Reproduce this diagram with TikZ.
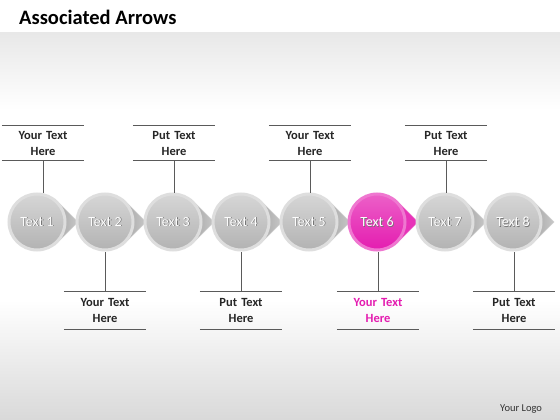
\documentclass[tikz,border=0pt]{standalone}
\usepackage{fontspec}
\setmainfont{Carlito}
\usetikzlibrary{shapes.geometric}
\definecolor{mag}{RGB}{228,28,176}
\definecolor{lineg}{RGB}{90,90,90}
\newcommand\shtxt[1]{\leavevmode\rlap{\kern0.8pt\raisebox{-0.8pt}{\color{black!55}#1}}#1}
\tikzset{
  ballg/.style={circle, minimum size=56pt, inner sep=0pt, line width=3pt,
    draw=black!13, top color=black!16, bottom color=black!30,
    text=white, font=\fontsize{14}{16}\selectfont},
  ballm/.style={circle, minimum size=56pt, inner sep=0pt, line width=3pt,
    draw=mag!60!white, top color=mag!70!white, bottom color=mag,
    text=white, font=\fontsize{14}{16}\selectfont},
  tipg/.style={left color=black!35, right color=black!22, draw=black!18, line width=0.6pt},
  tipm/.style={fill=mag!90!white, draw=mag!60!white, line width=0.6pt},
  lab/.style={inner sep=0pt, text width=82pt, align=center, minimum height=34pt,
    font=\bfseries\fontsize{12.5}{16}\selectfont, text=black!85},
  rule/.style={draw=lineg, line width=0.9pt},
}
\begin{document}
\begin{tikzpicture}[x=1pt,y=-1pt]
\useasboundingbox (0,0) rectangle (560,420);
\fill[white] (0,0) rectangle (560,420);
\shade[top color=black!9, bottom color=white] (0,33) rectangle (560,110);
\fill[white] (0,110) rectangle (560,300);
\shade[top color=white, bottom color=black!15] (0,300) rectangle (560,420);
\node[anchor=base west, inner sep=0pt, font=\bfseries\fontsize{20.5}{24}\selectfont] (title) at (19,25) {Associated Arrows};
\node[anchor=base west, inner sep=0pt, font=\fontsize{10.5}{12}\selectfont, text=black!80] (logo) at (500,411) {Your Logo};
% arrow tips
\foreach \i in {1,...,8}{
  \pgfmathsetmacro\cx{37+68*(\i-1)}
  \ifnum\i=6
    \filldraw[tipm] (\cx+18,199) -- (\cx+41,222) -- (\cx+18,245) -- cycle;
  \else
    \shadedraw[tipg] (\cx+18,199) -- (\cx+41,222) -- (\cx+18,245) -- cycle;
  \fi
}
% balls
\node[ballg] (c1) at (37,222) {\shtxt{Text 1}};
\node[ballg] (c2) at (105,222) {\shtxt{Text 2}};
\node[ballg] (c3) at (173,222) {\shtxt{Text 3}};
\node[ballg] (c4) at (241,222) {\shtxt{Text 4}};
\node[ballg] (c5) at (309,222) {\shtxt{Text 5}};
\node[ballm] (c6) at (377,222) {\shtxt{Text 6}};
\node[ballg] (c7) at (445,222) {\shtxt{Text 7}};
\node[ballg] (c8) at (513,222) {\shtxt{Text 8}};
% top labels
\node[lab] (t1) at (43,143) {Your Text\\Here};
\node[lab] (t3) at (174,143) {Put Text\\Here};
\node[lab] (t5) at (310,143) {Your Text\\Here};
\node[lab] (t7) at (446,143) {Put Text\\Here};
% bottom labels
\node[lab, minimum height=37pt] (b2) at (105,310.5) {Your Text\\Here};
\node[lab, minimum height=37pt] (b4) at (241,310.5) {Put Text\\Here};
\node[lab, minimum height=37pt, text=mag] (b6) at (378,310.5) {Your Text\\Here};
\node[lab, minimum height=37pt] (b8) at (514,310.5) {Put Text\\Here};
\foreach \n in {t1,t3,t5,t7,b2,b4,b6,b8}{
  \draw[rule] (\n.north west) -- (\n.north east);
  \draw[rule] (\n.south west) -- (\n.south east);
}
\draw[rule] (t1.south) -- (t1.south |- c1.north);
\draw[rule] (t3.south) -- (t3.south |- c3.north);
\draw[rule] (t5.south) -- (t5.south |- c5.north);
\draw[rule] (t7.south) -- (t7.south |- c7.north);
\draw[rule] (b2.north) -- (b2.north |- c2.south);
\draw[rule] (b4.north) -- (b4.north |- c4.south);
\draw[rule] (b6.north) -- (b6.north |- c6.south);
\draw[rule] (b8.north) -- (b8.north |- c8.south);
\end{tikzpicture}
\end{document}
